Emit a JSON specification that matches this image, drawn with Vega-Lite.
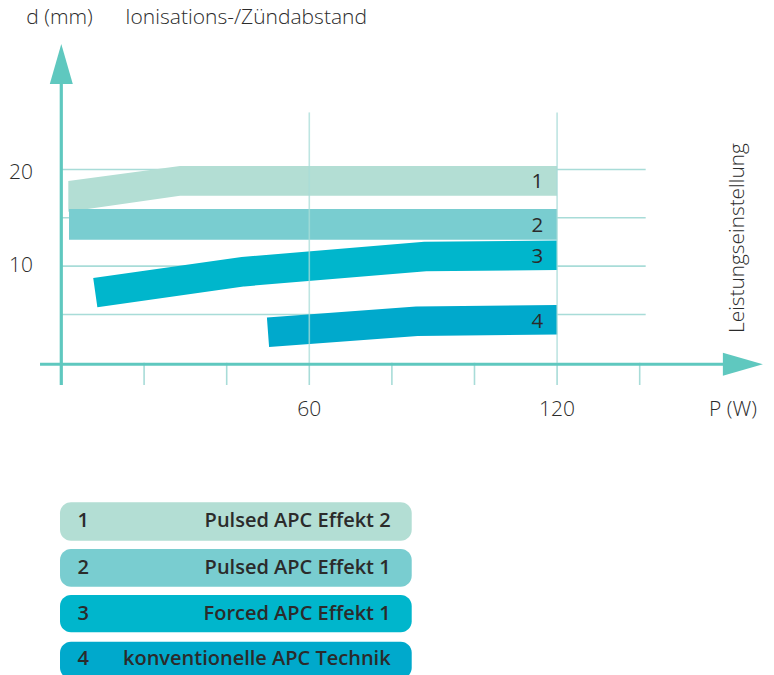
{
  "$schema": "https://vega.github.io/schema/vega-lite/v6.json",
  "width": 774,
  "height": 675,
  "autosize": {"type": "fit", "contains": "padding"},
  "padding": 0,
  "background": "white",
  "config": {"view": {"stroke": null}},
  "datasets": {
    "hgrid": [
      {"x": 0, "x2": 141.45, "y": 5},
      {"x": 0, "x2": 141.45, "y": 10},
      {"x": 0, "x2": 141.45, "y": 15},
      {"x": 0, "x2": 141.45, "y": 20}
    ],
    "vgrid": [
      {"x": 60, "y": 0, "y2": 25.9},
      {"x": 120, "y": 0, "y2": 25.9}
    ],
    "ticks": [
      {"x": 20, "y": 0, "y2": -2.3},
      {"x": 40, "y": 0, "y2": -2.3},
      {"x": 60, "y": 0, "y2": -2.3},
      {"x": 80, "y": 0, "y2": -2.3},
      {"x": 100, "y": 0, "y2": -2.3},
      {"x": 120, "y": 0, "y2": -2.3},
      {"x": 140, "y": 0, "y2": -2.3}
    ],
    "axes": [
      {"x": -5.2, "x2": 163, "y": -0.15, "y2": -0.15},
      {"x": -0.05, "x2": -0.05, "y": -2.3, "y2": 30.5}
    ],
    "arrows": [
      {"x": 164.98, "y": -0.15, "dir": "right"},
      {"x": -0.05, "y": 30.9, "dir": "up"}
    ],
    "areas": [
      {"band": "1", "x": 1.65, "y": 18.81, "y2": 15.63},
      {"band": "1", "x": 28.7, "y": 20.36, "y2": 17.29},
      {"band": "1", "x": 120, "y": 20.36, "y2": 17.29},
      {"band": "2", "x": 1.82, "y": 15.91, "y2": 12.73},
      {"band": "2", "x": 120, "y": 15.91, "y2": 12.73}
    ],
    "lines": [
      {"band": "3", "x": 8.18, "y": 7.25},
      {"band": "3", "x": 44.0, "y": 9.42},
      {"band": "3", "x": 88.0, "y": 11.0},
      {"band": "3", "x": 120, "y": 11.13},
      {"band": "4", "x": 50.0, "y": 3.16},
      {"band": "4", "x": 86.0, "y": 4.3},
      {"band": "4", "x": 120, "y": 4.45}
    ],
    "bandlabels": [
      {"x": 115.2, "y": 18.73, "t": "1"},
      {"x": 115.2, "y": 14.15, "t": "2"},
      {"x": 115.2, "y": 10.98, "t": "3"},
      {"x": 115.2, "y": 4.25, "t": "4"}
    ],
    "axislabels": [
      {"x": 60, "y": -4.85, "t": "60"},
      {"x": 120, "y": -4.85, "t": "120"},
      {"x": 162.6, "y": -4.85, "t": "P (W)"},
      {"x": -9.8, "y": 19.67, "t": "20"},
      {"x": -9.8, "y": 10.01, "t": "10"},
      {"x": -0.48, "y": 35.67, "t": "d (mm)"},
      {"x": 44.7, "y": 35.67, "t": "Ionisations-/Zündabstand"}
    ],
    "sidelabel": [
      {"x": 163.9, "y": 12.9, "t": "Leistungseinstellung"}
    ],
    "legendboxes": [
      {"band": "1", "x": -0.36, "x2": 84.8, "y": -14.43, "y2": -18.4},
      {"band": "2", "x": -0.36, "x2": 84.8, "y": -19.26, "y2": -23.16},
      {"band": "3", "x": -0.36, "x2": 84.8, "y": -24.02, "y2": -27.88},
      {"band": "4", "x": -0.36, "x2": 84.8, "y": -28.85, "y2": -32.7}
    ],
    "legendtext": [
      {"kind": "num", "x": 5.28, "y": -16.42, "t": "1"},
      {"kind": "num", "x": 5.28, "y": -21.2, "t": "2"},
      {"kind": "num", "x": 5.28, "y": -25.95, "t": "3"},
      {"kind": "num", "x": 5.28, "y": -30.6, "t": "4"},
      {"kind": "name", "x": 79.7, "y": -16.42, "t": "Pulsed APC Effekt 2"},
      {"kind": "name", "x": 79.7, "y": -21.2, "t": "Pulsed APC Effekt 1"},
      {"kind": "name", "x": 79.7, "y": -25.95, "t": "Forced APC Effekt 1"},
      {"kind": "name", "x": 79.7, "y": -30.6, "t": "konventionelle APC Technik"}
    ]
  },
  "encoding": {
    "x": {"field": "x", "type": "quantitative", "axis": null, "scale": {"domain": [-14.89, 172.52], "nice": false, "zero": false}},
    "y": {"field": "y", "type": "quantitative", "axis": null, "scale": {"domain": [-32.3, 37.53], "nice": false, "zero": false}}
  },
  "layer": [
    {
      "data": {"name": "hgrid"},
      "mark": {"type": "rule", "color": "#a8dcd8", "strokeWidth": 1.6},
      "encoding": {"x2": {"field": "x2"}}
    },
    {
      "data": {"name": "areas"},
      "mark": {"type": "area", "opacity": 1},
      "encoding": {
        "y2": {"field": "y2"},
        "color": {"field": "band", "type": "nominal", "legend": null, "scale": {"domain": ["1", "2", "3", "4"], "range": ["#b3ded4", "#79cdd0", "#00b6cc", "#00a9cc"]}},
        "detail": {"field": "band"}
      }
    },
    {
      "data": {"name": "lines"},
      "mark": {"type": "line", "strokeWidth": 29.5, "strokeCap": "butt", "strokeJoin": "miter", "opacity": 1},
      "encoding": {
        "color": {"field": "band", "type": "nominal", "legend": null, "scale": {"domain": ["1", "2", "3", "4"], "range": ["#b3ded4", "#79cdd0", "#00b6cc", "#00a9cc"]}},
        "detail": {"field": "band"}
      }
    },
    {
      "data": {"name": "vgrid"},
      "mark": {"type": "rule", "color": "#a8dcd8", "strokeWidth": 1.6, "opacity": 0.75},
      "encoding": {"y2": {"field": "y2"}}
    },
    {
      "data": {"name": "ticks"},
      "mark": {"type": "rule", "color": "#a8dcd8", "strokeWidth": 1.6},
      "encoding": {"y2": {"field": "y2"}}
    },
    {
      "data": {"name": "axes"},
      "mark": {"type": "rule", "color": "#5fc8bf", "strokeWidth": 3.2},
      "encoding": {"x2": {"field": "x2"}, "y2": {"field": "y2"}}
    },
    {
      "data": {"name": "arrows"},
      "mark": {"type": "point", "filled": true, "opacity": 1, "size": 1600, "color": "#5fc8bf", "strokeWidth": 0},
      "encoding": {
        "shape": {"field": "dir", "type": "nominal", "legend": null, "scale": {"domain": ["right", "up"], "range": ["M1,0L-1,0.575L-1,-0.575Z", "M0,-1L0.575,1L-0.575,1Z"]}}
      }
    },
    {
      "data": {"name": "bandlabels"},
      "mark": {"type": "text", "font": "Open Sans", "fontSize": 20.5, "fontWeight": 400, "color": "#2b2b2b", "align": "center", "baseline": "middle"},
      "encoding": {"text": {"field": "t"}}
    },
    {
      "data": {"name": "axislabels"},
      "mark": {"type": "text", "font": "Open Sans", "fontSize": 21, "fontWeight": 300, "color": "#2b2b2b", "align": "center", "baseline": "middle"},
      "encoding": {"text": {"field": "t"}}
    },
    {
      "data": {"name": "sidelabel"},
      "mark": {"type": "text", "font": "Open Sans", "fontSize": 20.8, "fontWeight": 300, "color": "#2b2b2b", "align": "center", "baseline": "middle", "angle": 270},
      "encoding": {"text": {"field": "t"}}
    },
    {
      "data": {"name": "legendboxes"},
      "mark": {"type": "rect", "cornerRadius": 11, "clip": true},
      "encoding": {
        "x2": {"field": "x2"},
        "y2": {"field": "y2"},
        "color": {"field": "band", "type": "nominal", "legend": null, "scale": {"domain": ["1", "2", "3", "4"], "range": ["#b3ded4", "#79cdd0", "#00b6cc", "#00a9cc"]}}
      }
    },
    {
      "data": {"name": "legendtext"},
      "transform": [{"filter": "datum.kind == 'num'"}],
      "mark": {"type": "text", "font": "Open Sans", "fontSize": 20, "fontWeight": 600, "color": "#2b2b2b", "align": "center", "baseline": "middle"},
      "encoding": {"text": {"field": "t"}}
    },
    {
      "data": {"name": "legendtext"},
      "transform": [{"filter": "datum.kind == 'name'"}],
      "mark": {"type": "text", "font": "Open Sans", "fontSize": 20, "fontWeight": 600, "color": "#2b2b2b", "align": "right", "baseline": "middle"},
      "encoding": {"text": {"field": "t"}}
    }
  ]
}
